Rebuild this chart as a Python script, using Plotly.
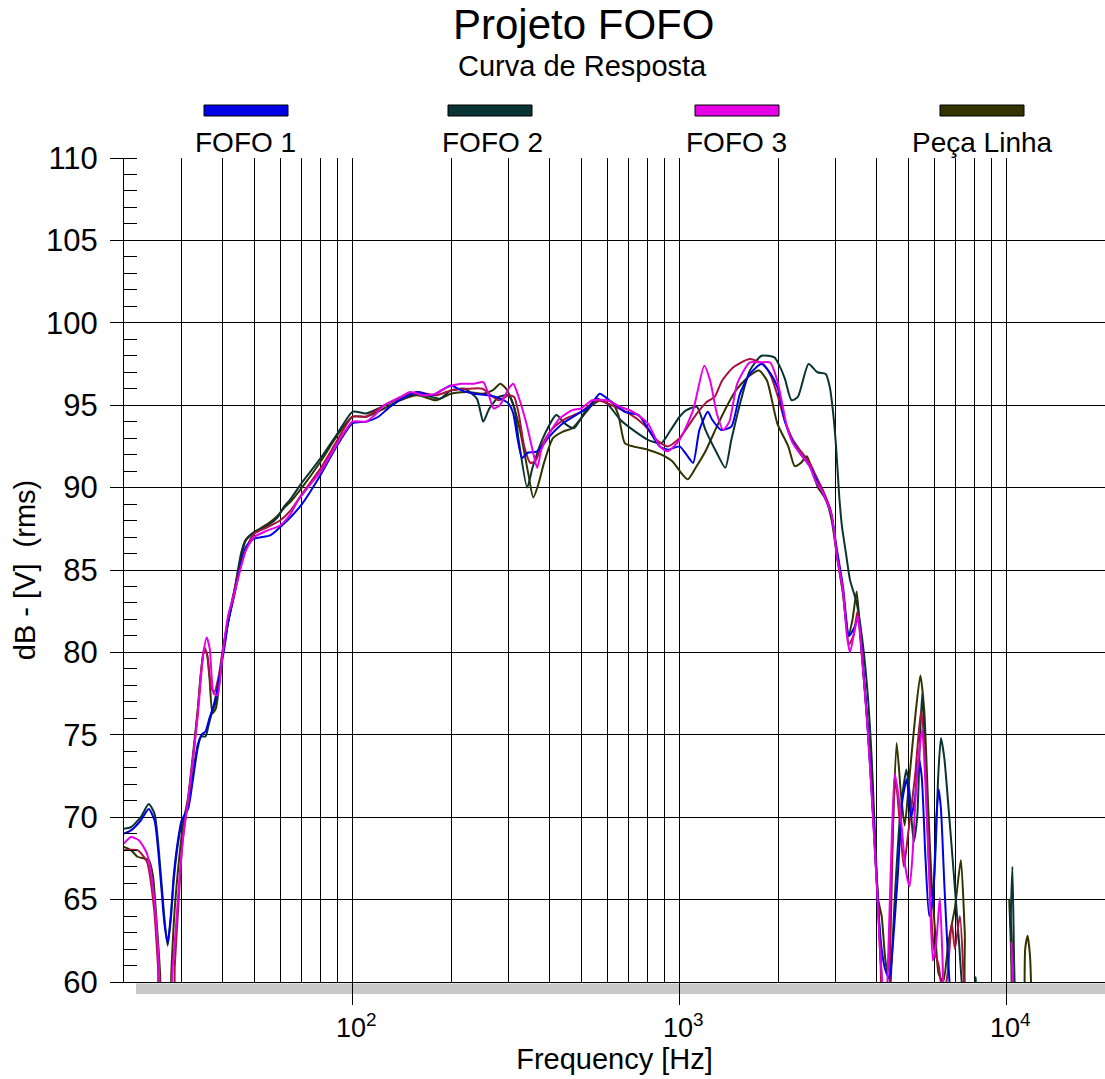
import plotly.graph_objects as go

# Frequency response curves: (frequency in Hz, level in dB)
fofo1 = [(20, 69.0), (21, 69.2), (22.5, 69.8), (23.8, 70.5), (24.8, 69.8), (25.9, 66.2), (26.6, 63.5),
         (27.2, 62.4), (27.8, 64.0), (28.4, 66.5), (29.2, 68.5), (30, 69.8), (31.4, 70.5), (32.5, 72.3),
         (33.6, 74.2), (34.5, 75.0), (35.5, 75.2), (36.5, 76.0), (37.6, 76.8), (38.6, 77.8), (40, 79.6),
         (40.8, 80.6), (41.6, 81.8), (43.3, 83.3), (45.6, 85.4), (47.2, 86.4), (50, 86.9), (56, 87.1),
         (60, 87.6), (64.6, 88.2), (70, 89.0), (80, 90.8), (90, 92.6), (100, 93.9), (110, 94.0), (120, 94.3),
         (130, 94.9), (145, 95.5), (158, 95.8), (175, 95.6), (200, 96.2), (215, 95.9), (235, 95.7),
         (260, 95.6), (283, 95.4), (300, 95.1), (310, 94.5), (320, 92.9), (330, 91.8), (342, 92.1),
         (367, 92.2), (400, 93.1), (440, 93.9), (500, 94.6), (530, 94.9), (570, 95.7), (610, 95.3),
         (680, 94.6), (750, 94.4), (800, 93.6), (870, 92.5), (920, 92.3), (1000, 92.5), (1050, 92.0),
         (1100, 91.5), (1150, 93.5), (1220, 94.6), (1260, 94.1), (1340, 93.5), (1440, 93.7), (1530, 95.7),
         (1640, 96.9), (1780, 97.5), (1900, 96.9), (2000, 96.0), (2100, 94.0), (2220, 92.8), (2330, 92.1),
         (2500, 91.3), (2600, 90.6), (2750, 89.6), (2900, 88.5), (3030, 86.2), (3160, 84.0), (3300, 81.0),
         (3420, 81.5), (3520, 82.0), (3630, 79.5), (3760, 75.5), (3870, 71.5), (3950, 68.4), (4050, 64.5),
         (4150, 62.0), (4250, 60.8), (4380, 60.2), (4480, 62.0), (4650, 66.5), (4800, 71.0), (4950, 72.3),
         (5100, 70.0), (5250, 71.2), (5380, 73.6), (5500, 72.5), (5650, 67.5), (5800, 64.0), (5950, 65.0),
         (6100, 70.0), (6200, 71.7), (6300, 70.5), (6450, 66.0), (6600, 62.0), (6800, 58.0), (7000, 56.0)]

fofo2 = [(20, 69.3), (21, 69.4), (22.5, 70.0), (23.8, 70.8), (24.8, 70.2), (25.9, 66.6), (26.6, 63.8),
         (27.2, 62.2), (27.8, 63.8), (28.4, 66.2), (29.2, 68.3), (30, 69.6), (31.4, 70.8), (32.5, 72.6),
         (33.6, 74.4), (34.5, 74.9), (35.5, 74.9), (36.3, 75.6), (37.1, 76.3), (38.2, 77.0), (39.2, 78.5),
         (40, 80.0), (41.0, 81.2), (42.0, 82.2), (43.3, 83.5), (45.6, 86.0), (47, 86.8), (50, 87.3),
         (55, 87.7), (59, 88.2), (61.5, 88.8), (64.6, 89.3), (70, 90.3), (80, 91.8), (90, 93.3), (100, 94.6),
         (110, 94.5), (120, 94.8), (135, 95.3), (158, 95.7), (185, 95.4), (200, 95.9), (220, 96.0),
         (240, 95.4), (251, 94.0), (262, 94.8), (280, 95.5), (300, 95.6), (312, 94.9), (322, 92.9),
         (342, 90.0), (355, 91.2), (380, 92.9), (420, 94.4), (445, 93.9), (475, 93.6), (510, 94.5),
         (555, 95.4), (600, 95.1), (660, 94.1), (720, 93.5), (800, 92.9), (880, 92.7), (940, 93.5),
         (1000, 94.3), (1050, 94.7), (1130, 94.9), (1200, 93.5), (1300, 92.1), (1380, 91.2), (1440, 92.9),
         (1550, 95.5), (1640, 97.1), (1780, 98.0), (1950, 97.9), (2020, 97.4), (2100, 96.6), (2200, 95.3),
         (2300, 95.5), (2480, 97.5), (2640, 97.0), (2800, 96.9), (2880, 96.1), (2950, 94.5), (3010, 92.5),
         (3080, 89.4), (3140, 87.6), (3200, 86.5), (3250, 85.6), (3320, 84.4), (3480, 83.0), (3630, 80.6),
         (3760, 77.5), (3870, 73.5), (3950, 69.4), (4020, 66.0), (4100, 62.5), (4180, 59.0), (4300, 56.0),
         (4420, 60.0), (4550, 65.0), (4700, 69.5), (4850, 72.0), (4940, 72.9), (5050, 71.5), (5200, 68.5),
         (5330, 70.0), (5430, 74.5), (5520, 77.5), (5650, 73.0), (5800, 67.0), (5950, 65.0), (6080, 68.5),
         (6180, 72.5), (6300, 74.8), (6450, 73.6), (6650, 70.5), (6900, 66.5), (7150, 62.5), (7350, 59.0),
         (7600, 56.0), (7900, 58.0), (8050, 60.3), (8200, 57.0), (10150, 56.0), (10300, 64.0),
         (10420, 67.0), (10550, 61.0), (10700, 56.0)]

fofo3 = [(20, 68.4), (21, 68.8), (22.2, 68.6), (23.5, 67.8), (24.7, 65.2), (25.4, 62.1), (26.0, 58.5),
         (27.3, 57.0), (28.2, 61.0), (28.8, 63.2), (29.6, 66.5), (30.5, 69.2), (31.4, 71.0), (32.5, 73.6),
         (33.6, 76.1), (34.9, 79.8), (35.8, 80.9), (36.6, 80.2), (37.6, 77.5), (38.6, 77.4), (40, 79.8),
         (41.6, 82.2), (43.3, 83.4), (45.6, 85.2), (47.2, 86.2), (50, 87.0), (55, 87.4), (60, 87.7),
         (64.6, 88.4), (68, 89.2), (75, 90.3), (80, 91.0), (90, 92.7), (100, 94.0), (110, 94.0), (117, 94.4),
         (125, 95.0), (140, 95.5), (150, 95.8), (165, 95.6), (180, 95.7), (195, 96.1), (215, 96.3),
         (235, 96.3), (251, 96.4), (262, 95.5), (270, 94.8), (282, 95.0), (300, 96.0), (310, 96.3),
         (322, 95.5), (340, 93.9), (355, 92.3), (367, 91.2), (378, 92.3), (400, 93.3), (430, 94.2),
         (470, 94.7), (500, 94.8), (540, 95.3), (600, 95.3), (660, 94.9), (720, 94.6), (800, 93.9),
         (870, 92.5), (920, 92.2), (1000, 92.9), (1100, 94.7), (1190, 97.4), (1240, 96.5), (1300, 94.5),
         (1360, 93.5), (1420, 94.0), (1500, 96.3), (1640, 97.6), (1760, 97.6), (1890, 97.6), (1990, 96.5),
         (2130, 93.7), (2220, 92.7), (2330, 92.1), (2500, 91.3), (2590, 90.5), (2740, 89.7), (2920, 88.3),
         (3030, 85.8), (3160, 83.8), (3250, 81.0), (3320, 80.0), (3420, 81.2), (3510, 82.2), (3580, 80.8),
         (3630, 79.3), (3760, 75.3), (3870, 71.3), (3950, 68.2), (4020, 65.5), (4100, 62.0), (4180, 59.5),
         (4250, 57.0), (4330, 60.5), (4420, 66.5), (4550, 72.6), (4680, 71.2), (4800, 69.0), (4900, 67.0),
         (5050, 65.8), (5150, 67.5), (5280, 71.5), (5420, 74.2), (5520, 75.3), (5650, 72.0), (5800, 66.5),
         (5950, 61.3), (6100, 62.5), (6250, 65.1), (6380, 61.0), (6500, 57.0), (7000, 56.0), (10150, 56.0),
         (10350, 62.4), (10500, 57.0)]

fofo3_rep = [(20, 68.0), (22, 68.0), (23.5, 67.3), (24.7, 64.5), (25.4, 61.0), (26, 57.0), (28, 57.0),
             (28.6, 61.0), (29.4, 65.0), (30.2, 68.5), (31.4, 71.0), (32.5, 73.5), (33.6, 76.4), (34.4, 78.8),
             (35.2, 80.3), (36.0, 79.8), (37.0, 77.8), (37.8, 77.6), (39, 78.6), (40, 80.0), (41.6, 82.0),
             (43.3, 83.6), (45.6, 85.4), (47.2, 86.3), (50, 87.2), (55, 87.6), (60, 88.0), (64.6, 88.6),
             (70, 89.6), (80, 91.2), (90, 92.9), (100, 94.3), (110, 94.3), (125, 95.0), (150, 95.7),
             (158, 95.8), (180, 95.6), (200, 95.9), (225, 96.0), (250, 96.0), (265, 95.6), (280, 95.3),
             (300, 95.6), (312, 95.5), (322, 94.5), (335, 92.5), (350, 91.5), (362, 91.6), (380, 92.6),
             (410, 93.6), (450, 94.2), (500, 94.6), (560, 95.3), (620, 95.0), (700, 94.5), (780, 93.8),
             (850, 92.9), (920, 92.5), (1000, 93.0), (1060, 93.7), (1130, 94.5), (1210, 95.2), (1280, 95.5),
             (1350, 96.5), (1460, 97.3), (1640, 97.8), (1800, 97.5), (1900, 96.8), (2000, 95.5), (2080, 94.3),
             (2220, 92.9), (2350, 92.2), (2500, 91.5), (2600, 90.8), (2750, 89.8), (2900, 88.6), (3030, 86.0),
             (3160, 83.6), (3300, 80.5), (3400, 81.0), (3500, 82.5), (3600, 80.0), (3760, 75.6), (3870, 71.6),
             (3950, 68.5), (4050, 64.5), (4120, 61.0), (4200, 57.0), (4300, 57.0), (4420, 63.0), (4520, 71.0),
             (4580, 72.3), (4700, 70.0), (4850, 67.0), (5000, 69.0), (5250, 72.5), (5480, 76.5), (5650, 73.0),
             (5850, 65.0), (6000, 62.0), (6200, 61.0), (6400, 59.0), (6600, 60.5), (6800, 63.6), (6950, 62.0),
             (7200, 64.0), (7400, 60.0), (7500, 57.0)]

peca_linha = [(20, 68.2), (21, 68.0), (22, 67.6), (23, 67.5), (23.8, 67.4), (24.5, 66.5), (25.2, 63.5),
              (25.8, 60.5), (26.2, 57.0), (27.5, 57.0), (27.9, 60.5), (28.6, 64.5), (29.5, 67.5), (30.3, 69.5),
              (31.4, 71.2), (32.5, 73.8), (33.6, 76.5), (34.4, 78.8), (35.1, 80.0), (35.7, 80.0), (36.5, 78.5),
              (37.3, 76.3), (38.2, 76.6), (39.2, 78.3), (40, 79.8), (41.6, 81.8), (43.3, 83.5), (45.6, 85.8),
              (47.2, 86.8), (50, 87.3), (55, 87.8), (59, 88.3), (62, 88.8), (65, 89.2), (70, 90.0), (80, 91.6),
              (90, 93.2), (100, 94.3), (110, 94.3), (125, 94.8), (140, 95.3), (158, 95.6), (180, 95.3),
              (200, 95.7), (225, 95.8), (250, 95.7), (268, 95.9), (283, 96.3), (295, 96.0), (310, 95.0),
              (325, 93.5), (345, 90.8), (357, 89.4), (370, 90.2), (385, 91.5), (410, 93.0), (440, 93.4),
              (470, 93.6), (500, 94.2), (540, 95.0), (575, 95.3), (620, 95.2), (650, 94.4), (680, 92.7),
              (720, 92.5), (800, 92.3), (880, 92.0), (950, 91.6), (1020, 90.8), (1060, 90.5), (1120, 91.2),
              (1200, 92.2), (1300, 93.7), (1400, 95.0), (1500, 96.0), (1640, 96.8), (1750, 97.1), (1850, 96.5),
              (1990, 93.9), (2150, 92.5), (2250, 91.3), (2350, 91.5), (2450, 91.9), (2550, 91.0), (2650, 90.0),
              (2800, 89.3), (2920, 88.0), (3030, 85.8), (3160, 83.6), (3280, 81.0), (3380, 82.0), (3480, 83.7),
              (3560, 81.5), (3650, 78.8), (3760, 75.5), (3870, 71.8), (3950, 68.6), (4050, 65.0), (4150, 64.0),
              (4250, 61.5), (4330, 60.5), (4450, 67.0), (4610, 74.5), (4750, 71.5), (4880, 69.5), (5050, 72.5),
              (5250, 76.0), (5450, 78.6), (5600, 76.5), (5750, 71.0), (5900, 66.0), (6050, 63.0), (6200, 60.5),
              (6400, 60.0), (6650, 62.5), (6950, 64.5), (7250, 67.4), (7450, 63.0), (7650, 58.0), (10050, 57.0),
              (10200, 65.0), (10350, 63.0), (10550, 58.0), (11200, 57.0), (11400, 62.0), (11600, 62.8),
              (11800, 61.5), (11950, 58.0)]

# Legend entries shown above the plot
legend_names = ["FOFO 1", "FOFO 2", "FOFO 3", "Peça Linha"]
legend_colors = ["#0000e6", "#0a3333", "#e600e6", "#333300"]

# Decade tick labels of the frequency axis
decade_vals = [100, 1000, 10000]
decade_text = ["\u00a010<sup>2</sup>", "\u00a010<sup>3</sup>", "\u00a010<sup>4</sup>"]
minor_vals = [m * d for d in (10, 100, 1000) for m in range(2, 10)] + [20000]
minor_vals = [v for v in minor_vals if v not in decade_vals and v > 20]

FONT = "Liberation Sans, Arial, Helvetica, sans-serif"

# Figure geometry (pixels)
W, H = 1105, 1079
ML, MR, MT, MB = 124, 0, 158, 97
PW, PH = W - ML - MR, H - MT - MB


def px(x):
    return (x - ML) / PW


def py(y):
    return (H - MB - y) / PH


fig = go.Figure()

curves = [
    ("Peça Linha", peca_linha, legend_colors[3]),
    ("FOFO 2", fofo2, legend_colors[1]),
    ("FOFO 3 (repetição)", fofo3_rep, "#a8123e"),
    ("FOFO 1", fofo1, legend_colors[0]),
    ("FOFO 3", fofo3, legend_colors[2]),
]
for name, pts, color in curves:
    f, db = zip(*pts)
    fig.add_trace(go.Scatter(
        x=list(f), y=list(db), mode="lines", name=name,
        line=dict(color=color, width=2, shape="spline", smoothing=0.6),
        showlegend=False, hoverinfo="skip",
    ))

shapes = []
annotations = []

# Gray strip under the frequency axis
shapes.append(dict(type="rect", xref="paper", yref="paper",
                   x0=px(136), x1=1.0, y0=py(994), y1=py(983.5),
                   fillcolor="#c8c8c8", line=dict(width=0), layer="below"))

# Custom legend: colored bars with labels underneath
bar_centers = [246, 490, 737, 982]
label_centers = [245, 492, 736, 982]
for name, color, bc, lc in zip(legend_names, legend_colors, bar_centers, label_centers):
    shapes.append(dict(type="rect", xref="paper", yref="paper",
                       x0=px(bc - 42), x1=px(bc + 42), y0=py(116), y1=py(105),
                       fillcolor=color, line=dict(color="black", width=1)))
    annotations.append(dict(text=name, xref="paper", yref="paper", x=px(lc), y=py(142),
                            xanchor="center", yanchor="middle", showarrow=False,
                            font=dict(family=FONT, size=28, color="black")))

# Title and subtitle
annotations.append(dict(text="Projeto FOFO", xref="paper", yref="paper", x=px(583), y=py(25),
                        xanchor="center", yanchor="middle", showarrow=False,
                        font=dict(family=FONT, size=42, color="black")))
annotations.append(dict(text="Curva de Resposta", xref="paper", yref="paper", x=px(582), y=py(66),
                        xanchor="center", yanchor="middle", showarrow=False,
                        font=dict(family=FONT, size=29, color="black")))

fig.update_layout(
    width=W, height=H,
    margin=dict(l=ML, r=MR, t=MT, b=MB, pad=0),
    paper_bgcolor="white", plot_bgcolor="white",
    font=dict(family=FONT, color="black"),
    shapes=shapes, annotations=annotations,
    showlegend=False,
)

fig.update_xaxes(
    type="log", range=[1.30103, 4.30103],
    tickvals=decade_vals, ticktext=decade_text,
    tickfont=dict(family=FONT, size=27, color="black"),
    ticks="outside", ticklen=22, tickcolor="black", tickwidth=1,
    showgrid=True, gridcolor="black", gridwidth=1,
    minor=dict(tickvals=minor_vals, showgrid=True, gridcolor="black", gridwidth=1, ticks=""),
    showline=True, linecolor="black", linewidth=1,
    zeroline=False,
    title=dict(text="Frequency [Hz]", font=dict(family=FONT, size=29, color="black"), standoff=4),
)

fig.update_yaxes(
    range=[60, 110], dtick=5, tick0=60,
    tickfont=dict(family=FONT, size=31, color="black"),
    ticklabelstandoff=6,
    ticks="outside", ticklen=13, tickcolor="black", tickwidth=1,
    showgrid=True, gridcolor="black", gridwidth=1,
    minor=dict(dtick=1, ticks="inside", ticklen=13, tickcolor="black", tickwidth=1, showgrid=False),
    showline=True, linecolor="black", linewidth=1,
    zeroline=False,
    title=dict(text="dB - [V]\u00a0\u00a0(rms)", font=dict(family=FONT, size=29, color="black"), standoff=1),
)

fig.write_html("out.html")
